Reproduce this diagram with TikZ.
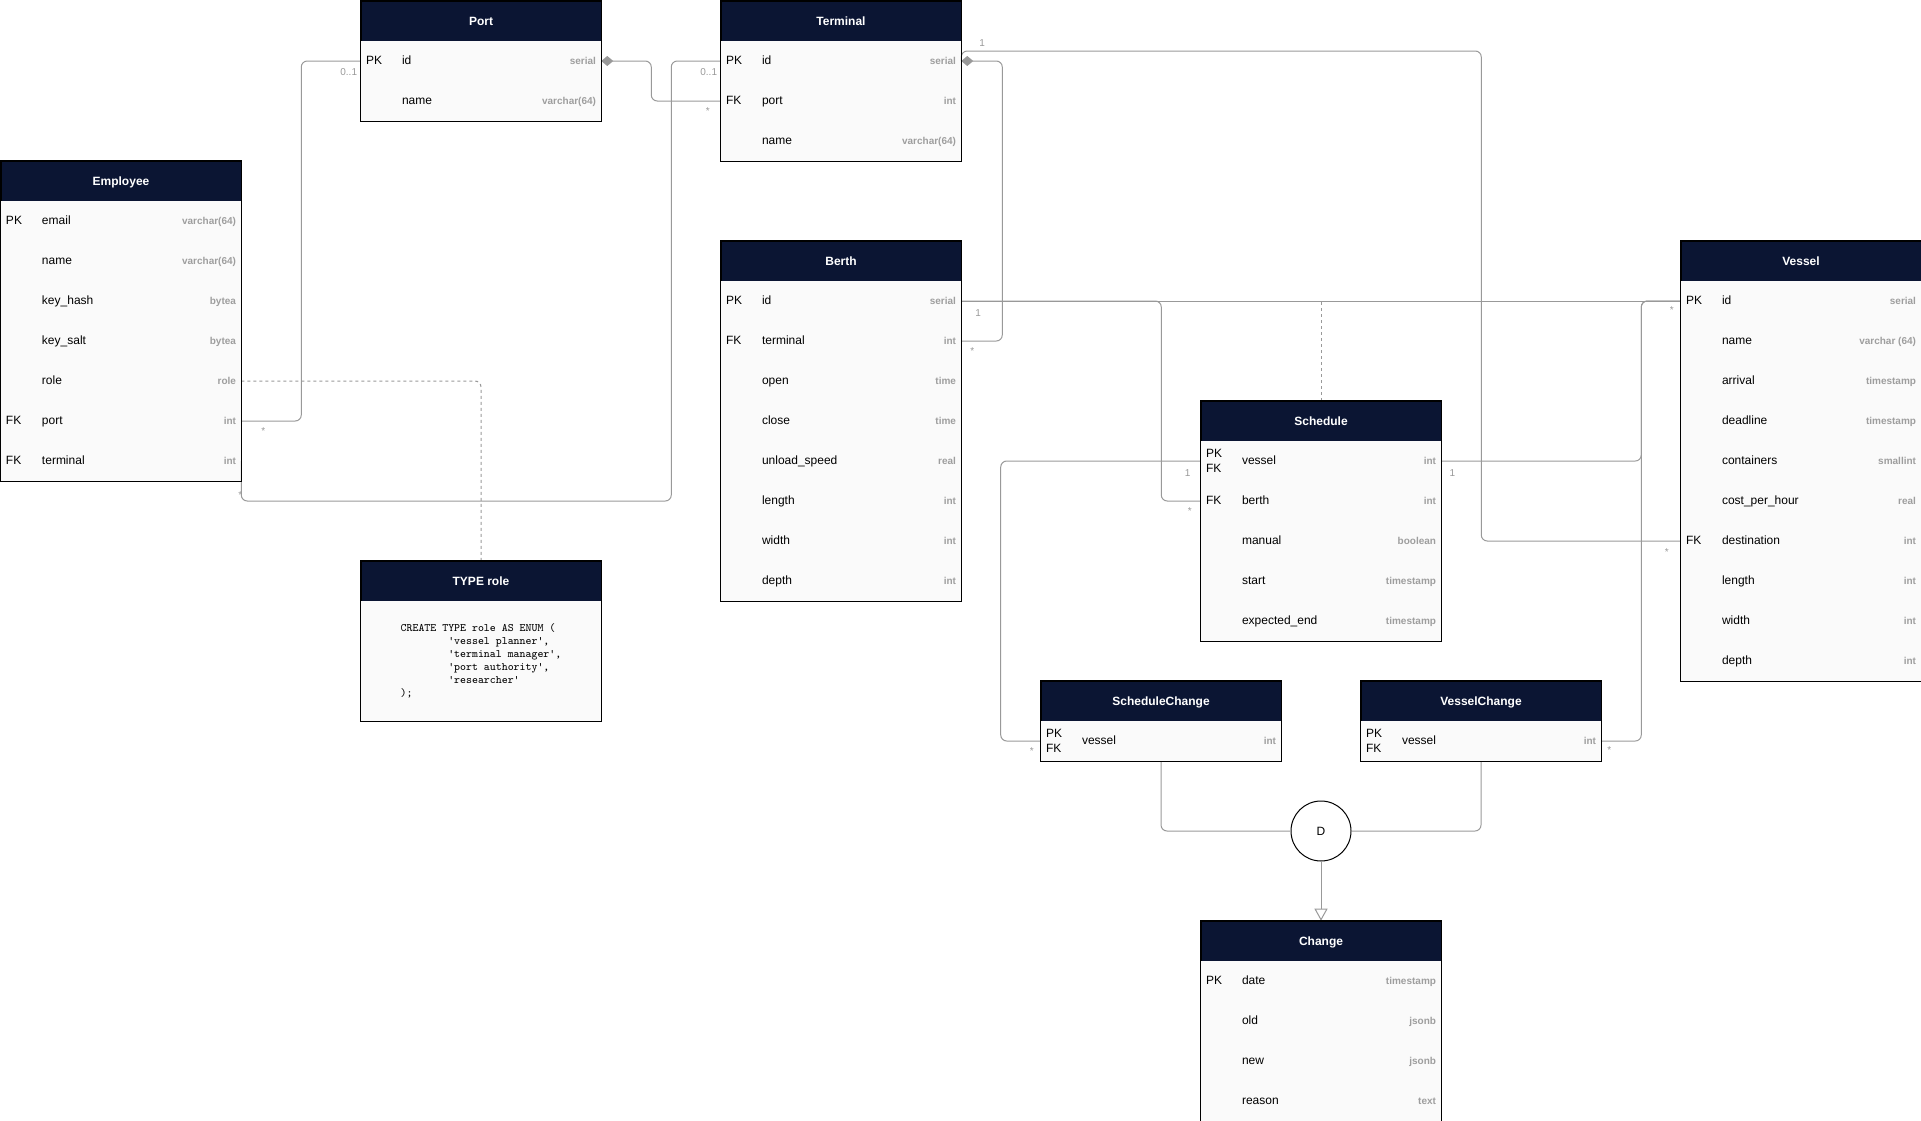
\documentclass[tikz,border=0pt]{standalone}
\usepackage{fontspec}
\setmainfont{Liberation Sans}
\usetikzlibrary{arrows.meta,calc}
\definecolor{hdrblue}{HTML}{0B1533}
\definecolor{rowgray}{HTML}{FAFAFA}
\definecolor{linegray}{HTML}{999999}
\definecolor{typegray}{HTML}{9E9E9E}
\newcommand{\typefont}{\color{typegray}\bfseries\fontsize{7.5}{9}\selectfont}
\newcommand{\fld}[3]{\makebox[172.5pt][l]{\makebox[27pt][l]{#1}#2\hfill{\typefont #3}}}
\newcommand{\pkfk}{\rlap{\raisebox{5.1pt}{PK}}\raisebox{-6.1pt}{FK}}
\newcommand{\q}{\textquotesingle}
\tikzset{hdrbox/.style={draw=black, fill=hdrblue, text=white, font=\bfseries\fontsize{9}{11}\selectfont, minimum width=180pt, minimum height=30pt, inner sep=0pt, text height=6.5pt, text depth=0pt},
         fldrow/.style={fill=rowgray, minimum width=180pt, minimum height=30pt, inner xsep=3.75pt, inner ysep=0pt, font=\fontsize{9}{11}\selectfont, text height=6pt, text depth=0.4pt},
         codebox/.style={fill=rowgray, minimum width=180pt, minimum height=90pt, align=left, font=\ttfamily\fontsize{8.5}{9.75}\selectfont},
         tbl/.style={draw=black, line width=0.9pt},
         rel/.style={draw=linegray, line width=0.75pt, rounded corners=4.5pt},
         dsh/.style={dash pattern=on 2.25pt off 2.25pt},
         mult/.style={text=linegray, font=\fontsize{7.5}{9}\selectfont, inner sep=0pt}}

\begin{document}
\begin{tikzpicture}[x=0.75pt, y=-0.75pt]
  \useasboundingbox (-1,-1) rectangle (1920,1120);

  \node[hdrbox] (port) at (480,20) {Port};
  \node[fldrow] (port-id)   at (480,60)  {\fld{PK}{id}{serial}};
  \node[fldrow] (port-name) at (480,100) {\fld{}{name}{varchar(64)}};

  \node[hdrbox] (term) at (840,20) {Terminal};
  \node[fldrow] (term-id)   at (840,60)  {\fld{PK}{id}{serial}};
  \node[fldrow] (term-port) at (840,100) {\fld{FK}{port}{int}};
  \node[fldrow] (term-name) at (840,140) {\fld{}{name}{varchar(64)}};

  \node[hdrbox] (emp) at (120,180) {Employee};
  \node[fldrow] (emp-email)    at (120,220) {\fld{PK}{email}{varchar(64)}};
  \node[fldrow] (emp-name)     at (120,260) {\fld{}{name}{varchar(64)}};
  \node[fldrow] (emp-keyhash)  at (120,300) {\fld{}{key\_hash}{bytea}};
  \node[fldrow] (emp-keysalt)  at (120,340) {\fld{}{key\_salt}{bytea}};
  \node[fldrow] (emp-role)     at (120,380) {\fld{}{role}{role}};
  \node[fldrow] (emp-port)     at (120,420) {\fld{FK}{port}{int}};
  \node[fldrow] (emp-terminal) at (120,460) {\fld{FK}{terminal}{int}};

  \node[hdrbox] (berth) at (840,260) {Berth};
  \node[fldrow] (berth-id)       at (840,300) {\fld{PK}{id}{serial}};
  \node[fldrow] (berth-terminal) at (840,340) {\fld{FK}{terminal}{int}};
  \node[fldrow] (berth-open)     at (840,380) {\fld{}{open}{time}};
  \node[fldrow] (berth-close)    at (840,420) {\fld{}{close}{time}};
  \node[fldrow] (berth-speed)    at (840,460) {\fld{}{unload\_speed}{real}};
  \node[fldrow] (berth-length)   at (840,500) {\fld{}{length}{int}};
  \node[fldrow] (berth-width)    at (840,540) {\fld{}{width}{int}};
  \node[fldrow] (berth-depth)    at (840,580) {\fld{}{depth}{int}};

  \node[hdrbox] (sched) at (1320,420) {Schedule};
  \node[fldrow] (sched-vessel) at (1320,460) {\fld{\pkfk}{vessel}{int}};
  \node[fldrow] (sched-berth)  at (1320,500) {\fld{FK}{berth}{int}};
  \node[fldrow] (sched-manual) at (1320,540) {\fld{}{manual}{boolean}};
  \node[fldrow] (sched-start)  at (1320,580) {\fld{}{start}{timestamp}};
  \node[fldrow] (sched-end)    at (1320,620) {\fld{}{expected\_end}{timestamp}};

  \node[hdrbox] (vessel) at (1800,260) {Vessel};
  \node[fldrow] (vessel-id)          at (1800,300) {\fld{PK}{id}{serial}};
  \node[fldrow] (vessel-name)        at (1800,340) {\fld{}{name}{varchar (64)}};
  \node[fldrow] (vessel-arrival)     at (1800,380) {\fld{}{arrival}{timestamp}};
  \node[fldrow] (vessel-deadline)    at (1800,420) {\fld{}{deadline}{timestamp}};
  \node[fldrow] (vessel-containers)  at (1800,460) {\fld{}{containers}{smallint}};
  \node[fldrow] (vessel-cost)        at (1800,500) {\fld{}{cost\_per\_hour}{real}};
  \node[fldrow] (vessel-destination) at (1800,540) {\fld{FK}{destination}{int}};
  \node[fldrow] (vessel-length)      at (1800,580) {\fld{}{length}{int}};
  \node[fldrow] (vessel-width)       at (1800,620) {\fld{}{width}{int}};
  \node[fldrow] (vessel-depth)       at (1800,660) {\fld{}{depth}{int}};

  \node[hdrbox] (role) at (480,580) {TYPE role};
  \node[codebox] (role-body) at (480,660) {CREATE TYPE role AS ENUM (\\
    \hspace*{4.2em}\q vessel planner\q,\\
    \hspace*{4.2em}\q terminal manager\q,\\
    \hspace*{4.2em}\q port authority\q,\\
    \hspace*{4.2em}\q researcher\q\\
    );};

  \node[hdrbox] (schc) at (1160,700) {ScheduleChange};
  \node[fldrow] (schc-vessel) at (1160,740) {\fld{\pkfk}{vessel}{int}};
  \node[hdrbox] (vesc) at (1480,700) {VesselChange};
  \node[fldrow] (vesc-vessel) at (1480,740) {\fld{\pkfk}{vessel}{int}};

  \node[circle, draw=black, fill=white, line width=0.75pt, minimum size=45pt, font=\fontsize{9}{11}\selectfont] (d) at (1320,830) {D};

  \node[hdrbox] (chg) at (1320,940) {Change};
  \node[fldrow] (chg-date)   at (1320,980)  {\fld{PK}{date}{timestamp}};
  \node[fldrow] (chg-old)    at (1320,1020) {\fld{}{old}{jsonb}};
  \node[fldrow] (chg-new)    at (1320,1060) {\fld{}{new}{jsonb}};
  \node[fldrow] (chg-reason) at (1320,1100) {\fld{}{reason}{text}};

  \draw[rel] (emp-port.east) -- ++(60,0) |- (port-id.west);
  \draw[rel, {Diamond[length=9pt,width=7.5pt]}-] (port-id.east) -- ++(50,0) |- (term-port.west);
  \draw[rel] (emp-terminal.east) -- ++(0,40) -- ++(430,0) |- (term-id.west);
  \draw[rel, {Diamond[length=9pt,width=7.5pt]}-] (term-id.east) -- ++(41,0) |- (berth-terminal.east);
  \draw[rel] (term-id.east) -- ++(0,-10) -- ++(520,0) |- (vessel-destination.west);
  \draw[rel] (berth-id.east) -- (vessel-id.west);
  \draw[rel] (berth-id.east) -- ++(200,0) |- (sched-berth.west);
  \draw[rel, dsh] (sched.north) -- (sched.north |- berth-id.east);
  \draw[rel] (sched-vessel.west) -- ++(-200,0) |- (schc-vessel.west);
  \draw[rel] (sched-vessel.east) -- ++(200,0) |- (vessel-id.west);
  \draw[rel] (vesc-vessel.east) -- ++(40,0) |- (vessel-id.west);
  \draw[rel] (schc-vessel.south) |- (d.west);
  \draw[rel] (vesc-vessel.south) |- (d.east);
  \draw[rel, -{Triangle[open,fill=white,length=9pt,width=9.75pt]}] (d.south) -- (chg.north);
  \draw[rel, dsh] (emp-role.east) -| (role.north);

  \node[mult] (m-emp-port)   at ($(emp-port.east)+(22,10)$)      {*};
  \node[mult] (m-port-id)    at ($(port-id.west)+(-12,11)$)      {0..1};
  \node[mult] (m-term-port)  at ($(term-port.west)+(-13,10)$)    {*};
  \node[mult] (m-term-id)    at ($(term-id.west)+(-12,11)$)      {0..1};
  \node[mult] (m-emp-term)   at ($(emp-terminal.east)+(-1,34)$)  {*};
  \node[mult] (m-term-dest)  at ($(term-id.east)+(21,-18)$)      {1};
  \node[mult] (m-berth-term) at ($(berth-terminal.east)+(11,10)$) {*};
  \node[mult] (m-berth-id)   at ($(berth-id.east)+(17,12)$)      {1};
  \node[mult] (m-vessel-id)  at ($(vessel-id.west)+(-9,9)$)      {*};
  \node[mult] (m-sched-berth) at ($(sched-berth.west)+(-11,10)$) {*};
  \node[mult] (m-sched-vl)   at ($(sched-vessel.west)+(-13,12)$) {1};
  \node[mult] (m-sched-vr)   at ($(sched-vessel.east)+(11,12)$)  {1};
  \node[mult] (m-schc)       at ($(schc-vessel.west)+(-9,10)$)   {*};
  \node[mult] (m-vesc)       at ($(vesc-vessel.east)+(8,9)$)     {*};
  \node[mult] (m-vessel-dest) at ($(vessel-destination.west)+(-14,11)$) {*};

  \draw[tbl] (port.north west) rectangle (port-name.south east);
  \draw[tbl] (term.north west) rectangle (term-name.south east);
  \draw[tbl] (emp.north west) rectangle (emp-terminal.south east);
  \draw[tbl] (berth.north west) rectangle (berth-depth.south east);
  \draw[tbl] (sched.north west) rectangle (sched-end.south east);
  \draw[tbl] (vessel.north west) rectangle (vessel-depth.south east);
  \draw[tbl] (role.north west) rectangle (role-body.south east);
  \draw[tbl] (schc.north west) rectangle (schc-vessel.south east);
  \draw[tbl] (vesc.north west) rectangle (vesc-vessel.south east);
  \draw[tbl] (chg.north west) rectangle (chg-reason.south east);
\end{tikzpicture}
\end{document}
